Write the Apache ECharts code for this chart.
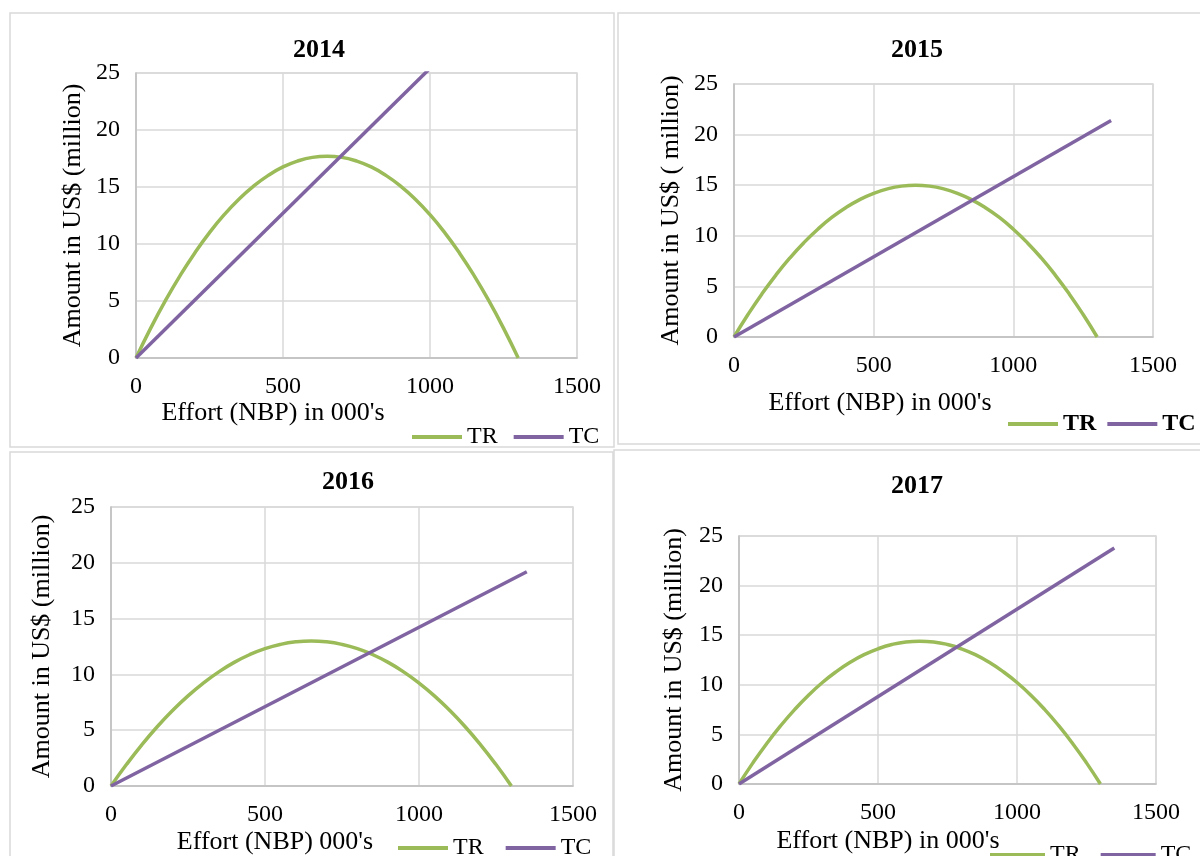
<!DOCTYPE html>
<html>
<head>
<meta charset="utf-8">
<script src="https://cdn.jsdelivr.net/npm/echarts@6/dist/echarts.min.js"></script>
<style>
  html, body { margin: 0; padding: 0; background: #fff; }
  #main { width: 1200px; height: 856px; }
</style>
</head>
<body>
<div id="main"></div>
<script>
// data
var years = ['2014', '2015', '2016', '2017'];
var effort = [0, 50, 100, 150, 200, 250, 300, 350, 400, 450, 500, 550, 600, 650,
              700, 750, 800, 850, 900, 950, 1000, 1050, 1100, 1150, 1200, 1250, 1300];
var tr2014 = [0, 2.62, 5.03, 7.23, 9.22, 11.00, 12.57, 13.93, 15.08, 16.02, 16.76, 17.28, 17.60, 17.7,
              17.60, 17.28, 16.76, 16.02, 15.08, 13.93, 12.57, 11.00, 9.22, 7.23, 5.03, 2.62, 0];
var tr2015 = [0, 2.22, 4.26, 6.12, 7.81, 9.32, 10.65, 11.81, 12.78, 13.58, 14.20, 14.64, 14.91, 15.0,
              14.91, 14.64, 14.20, 13.58, 12.78, 11.81, 10.65, 9.32, 7.81, 6.12, 4.26, 2.22, 0];
var tr2016 = [0, 1.92, 3.69, 5.31, 6.77, 8.08, 9.23, 10.23, 11.08, 11.77, 12.31, 12.69, 12.92, 13.0,
              12.92, 12.69, 12.31, 11.77, 11.08, 10.23, 9.23, 8.08, 6.77, 5.31, 3.69, 1.92, 0];
var tr2017 = [0, 2.13, 4.09, 5.88, 7.50, 8.95, 10.23, 11.33, 12.27, 13.04, 13.63, 14.06, 14.32, 14.4,
              14.32, 14.06, 13.63, 13.04, 12.27, 11.33, 10.23, 8.95, 7.50, 5.88, 4.09, 2.13, 0];
var tcEffort = [0, 1350];
var tc2014 = [0, 34.3];
var tc2015 = [0, 21.4];
var tc2016 = [0, 19.2];
var tc2017 = [0, 23.8];
var yTitles = ['Amount in US$ (million)', 'Amount in US$ ( million)', 'Amount in US$ (million)', 'Amount in US$ (million)'];
var xTitles = ["Effort (NBP) in 000's", "Effort (NBP) in 000's", "Effort (NBP) 000's", "Effort (NBP) in 000's"];

var trAll = [tr2014, tr2015, tr2016, tr2017];
var tcAll = [tc2014, tc2015, tc2016, tc2017];

function pairs(xs, ys) {
    return xs.map(function (x, i) { return [x, ys[i]]; });
}

// layout of each panel
var panels = [
    { box: [10, 13, 604, 434], grid: [136, 73, 441, 285], title: [314, 32], xt: [273, 413], legend: [412, 425], gap: 16, iw: 50, nameGap: 50, bold: false },
    { box: [618, 13, 600, 431], grid: [734, 84, 419, 253], title: [912, 32], xt: [880, 403], legend: [1008, 412], gap: 11, iw: 50, nameGap: 50, bold: true },
    { box: [10, 452, 603, 420], grid: [111, 507, 462, 279], title: [343, 464], xt: [275, 842], legend: [398, 836], gap: 22, iw: 50, nameGap: 56, bold: false },
    { box: [614, 450, 600, 420], grid: [739, 536, 417, 248], title: [912, 468], xt: [888, 841], legend: [990, 843], gap: 20, iw: 55, nameGap: 52, bold: false }
];

var serif = '"Liberation Serif", "Times New Roman", serif';
var green = '#9bbb59';
var purple = '#8064a2';

var option = {
    backgroundColor: '#fff',
    animation: false,
    textStyle: { fontFamily: serif, color: '#000' },
    title: [], grid: [], xAxis: [], yAxis: [], legend: [], series: [], graphic: []
};

panels.forEach(function (p, i) {
    option.graphic.push({
        type: 'rect', z: -1,
        shape: { x: p.box[0], y: p.box[1], width: p.box[2], height: p.box[3] },
        style: { fill: 'none', stroke: '#d9d9d9', lineWidth: 1.5 }
    });
    option.graphic.push({
        type: 'text', x: p.xt[0], y: p.xt[1],
        style: { text: xTitles[i], font: '26px ' + serif, fill: '#000', textAlign: 'center', textVerticalAlign: 'middle' }
    });
    option.title.push({
        text: years[i], left: p.title[0], top: p.title[1], textAlign: 'center',
        textStyle: { fontFamily: serif, fontSize: 26, fontWeight: 'bold', color: '#000' }
    });
    option.grid.push({
        left: p.grid[0], top: p.grid[1], width: p.grid[2], height: p.grid[3],
        show: true, borderColor: '#d9d9d9', borderWidth: 1.5
    });
    option.xAxis.push({
        type: 'value', gridIndex: i, min: 0, max: 1500, interval: 500,
        axisLine: { show: true, lineStyle: { color: '#bfbfbf', width: 1.5 } },
        axisTick: { show: false },
        splitLine: { lineStyle: { color: '#d9d9d9', width: 1.5 } },
        axisLabel: { fontFamily: serif, fontSize: 24, color: '#000', margin: 17, formatter: function (v) { return String(v); } }
    });
    option.yAxis.push({
        type: 'value', gridIndex: i, min: 0, max: 25, interval: 5,
        name: yTitles[i], nameLocation: 'middle', nameGap: p.nameGap,
        nameTextStyle: { fontFamily: serif, fontSize: 26, color: '#000' },
        axisLine: { show: true, lineStyle: { color: '#bfbfbf', width: 1.5 } },
        axisTick: { show: false },
        splitLine: { lineStyle: { color: '#d9d9d9', width: 1.5 } },
        axisLabel: { fontFamily: serif, fontSize: 24, color: '#000', margin: 16 }
    });
    option.legend.push({
        left: p.legend[0], top: p.legend[1], width: 400, padding: 0,
        icon: 'rect', itemWidth: p.iw, itemHeight: 4, itemGap: p.gap,
        data: ['TR', 'TC'],
        textStyle: { fontFamily: serif, fontSize: 24, color: '#000', fontWeight: p.bold ? 'bold' : 'normal' }
    });
    option.series.push({
        name: 'TR', type: 'line', xAxisIndex: i, yAxisIndex: i,
        data: pairs(effort, trAll[i]), smooth: true, symbol: 'none',
        lineStyle: { color: green, width: 3.5 }, itemStyle: { color: green }
    });
    option.series.push({
        name: 'TC', type: 'line', xAxisIndex: i, yAxisIndex: i,
        data: pairs(tcEffort, tcAll[i]), symbol: 'none', clip: true,
        lineStyle: { color: purple, width: 3.5 }, itemStyle: { color: purple }
    });
});

var chart = echarts.init(document.getElementById('main'));
chart.setOption(option);
</script>
</body>
</html>
